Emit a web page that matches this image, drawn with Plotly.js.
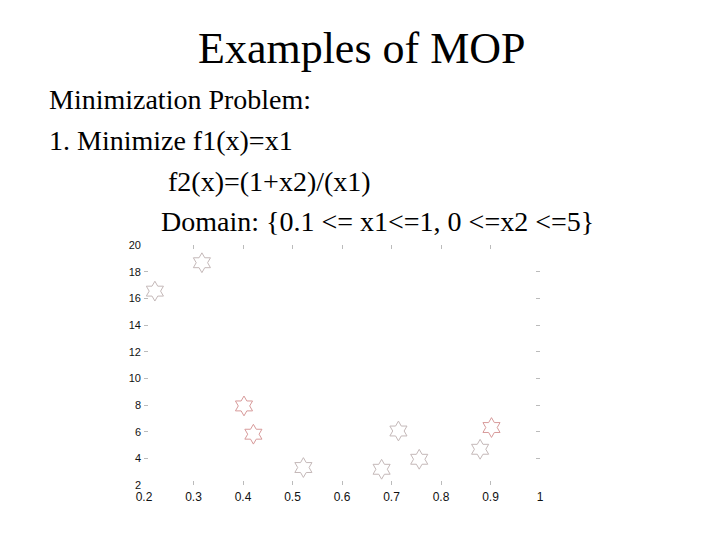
<!DOCTYPE html>
<html>
<head>
<meta charset="utf-8">
<script src="https://cdn.plot.ly/plotly-3.0.1.min.js"></script>
<style>
  html, body { margin: 0; padding: 0; background: #fff; }
  #chart { width: 720px; height: 540px; }
</style>
</head>
<body>
<div id="chart"></div>
<script>
// points: f1 on x, f2 on y
var grayX = [0.222, 0.317, 0.522, 0.680, 0.714, 0.756, 0.879];
var grayY = [16.54, 18.67, 3.31, 3.18, 6.05, 3.93, 4.68];
var redX = [0.402, 0.421, 0.902];
var redY = [7.93, 5.81, 6.31];

var xTicks = [0.2, 0.3, 0.4, 0.5, 0.6, 0.7, 0.8, 0.9, 1];
var xTickText = ['0.2', '0.3', '0.4', '0.5', '0.6', '0.7', '0.8', '0.9', '1'];
var yTicks = [2, 4, 6, 8, 10, 12, 14, 16, 18, 20];

// plot box in page pixels
var L = 144, R = 540, T = 245, B = 485;
function px(x) { return (x - L) / (R - L); }
function py(y) { return (B - y) / (B - T); }

var serif = 'Liberation Serif, Times New Roman, serif';
var sans = 'Liberation Sans, Arial, sans-serif';

function line(txt, x, y, size, anchor) {
  return {
    xref: 'paper', yref: 'paper',
    x: px(x), y: py(y),
    xanchor: anchor || 'left', yanchor: 'middle',
    text: txt, showarrow: false,
    font: { family: serif, size: size, color: '#000' }
  };
}

var trace1 = {
  x: grayX,
  y: grayY,
  mode: 'markers',
  type: 'scatter',
  marker: {
    symbol: 'hexagram-open',
    size: 15,
    color: '#c4b8b8',
    line: { width: 1, color: '#c4b8b8' }
  },
  hoverinfo: 'x+y'
};

var trace2 = {
  x: redX,
  y: redY,
  mode: 'markers',
  type: 'scatter',
  marker: {
    symbol: 'hexagram-open',
    size: 15,
    color: '#d79a9a',
    line: { width: 1, color: '#d79a9a' }
  },
  hoverinfo: 'x+y'
};

var layout = {
  width: 720,
  height: 540,
  showlegend: false,
  paper_bgcolor: '#fff',
  plot_bgcolor: '#fff',
  margin: { l: L, r: 720 - R, t: T, b: 540 - B, pad: 0 },
  xaxis: {
    range: [0.2, 1],
    tickvals: xTicks,
    ticktext: xTickText,
    ticks: 'inside',
    ticklen: 4,
    tickcolor: '#bbb',
    mirror: 'ticks',
    showline: false,
    showgrid: false,
    zeroline: false,
    fixedrange: true,
    ticklabelstandoff: 3,
    tickfont: { family: sans, size: 12, color: '#111' }
  },
  yaxis: {
    range: [2, 20],
    tickvals: yTicks,
    ticks: 'inside',
    ticklen: 4,
    tickcolor: '#bbb',
    mirror: 'ticks',
    showline: false,
    showgrid: false,
    zeroline: false,
    fixedrange: true,
    ticklabelstandoff: 2,
    tickfont: { family: sans, size: 11, color: '#111' }
  },
  annotations: [
    line('Examples of MOP', 362, 48, 44, 'center'),
    line('Minimization Problem:', 47, 100, 28),
    line('1. Minimize f1(x)=x1', 47, 140, 28),
    line('f2(x)=(1+x2)/(x1)', 166, 181, 28),
    line('Domain: {0.1 &lt;= x1&lt;=1, 0 &lt;=x2 &lt;=5}', 159, 222, 28)
  ]
};

var config = { displayModeBar: false, responsive: false };

Plotly.newPlot('chart', [trace1, trace2], layout, config);
</script>
</body>
</html>
